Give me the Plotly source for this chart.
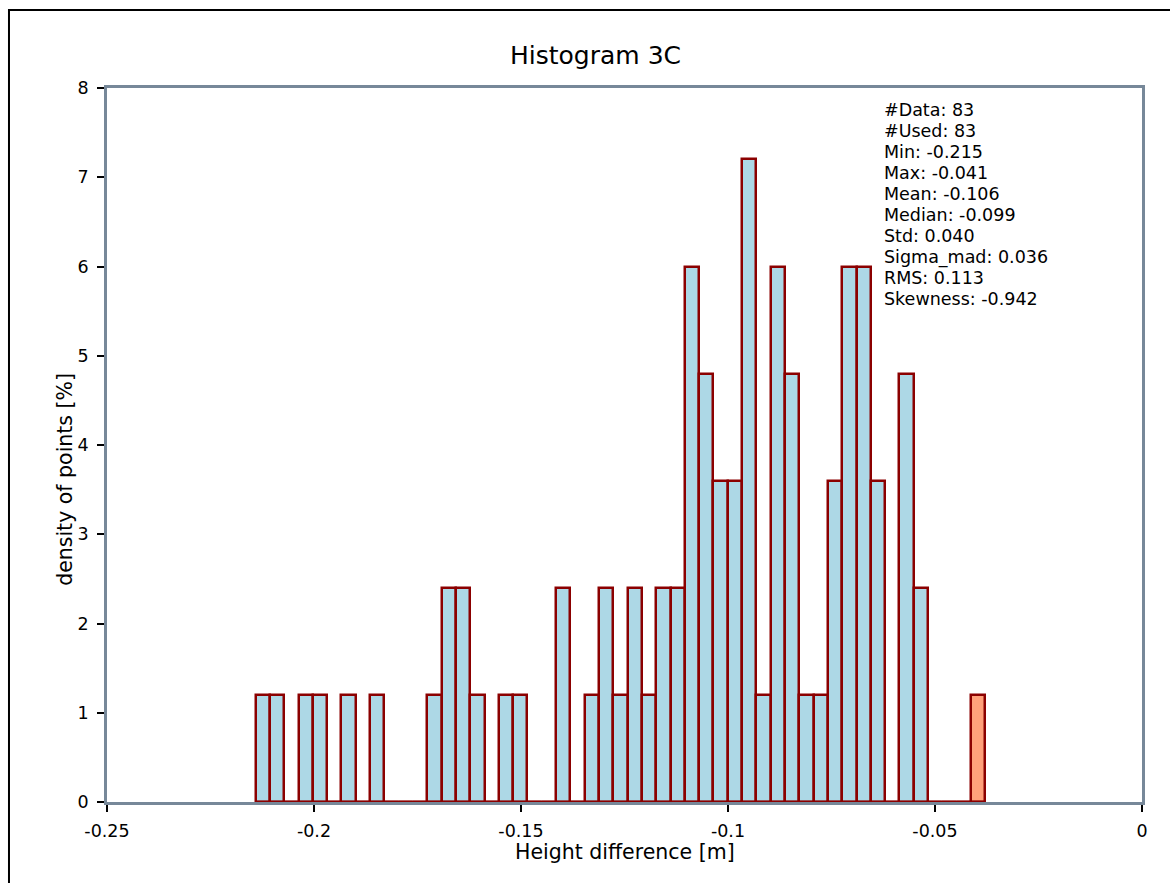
import plotly.graph_objects as go

# histogram of height differences, 51 bins (last one = max value, highlighted)
bin_start = -0.2141
bin_width = 0.003456
density = [1.2, 1.2, 0, 1.2, 1.2, 0, 1.2, 0, 1.2, 0,
           0, 0, 1.2, 2.4, 2.4, 1.2, 0, 1.2, 1.2, 0,
           0, 2.4, 0, 1.2, 2.4, 1.2, 2.4, 1.2, 2.4, 2.4,
           6.0, 4.8, 3.6, 3.6, 7.2, 1.2, 6.0, 4.8, 1.2, 1.2,
           3.6, 6.0, 6.0, 3.6, 0, 4.8, 2.4, 0, 0, 0,
           1.2]
highlight = [False] * 50 + [True]

x_tickvals = [-0.25, -0.2, -0.15, -0.1, -0.05, 0]
x_ticktext = ["-0.25", "-0.2", "-0.15", "-0.1", "-0.05", "0"]
y_tickvals = [0, 1, 2, 3, 4, 5, 6, 7, 8]

stats = [("#Data", "83"), ("#Used", "83"), ("Min", "-0.215"), ("Max", "-0.041"),
         ("Mean", "-0.106"), ("Median", "-0.099"), ("Std", "0.040"),
         ("Sigma_mad", "0.036"), ("RMS", "0.113"), ("Skewness", "-0.942")]

FONT = "DejaVu Sans"
EDGE = "#8b0000"
AXIS = "#778899"
PLOT_H = 714  # plot area height in px

fills = ["#ffa07a" if h else "#add8e6" for h in highlight]
bin_end = bin_start + bin_width * len(density)

fig = go.Figure()
# red baseline under the bins
fig.add_trace(go.Scatter(x=[bin_start, bin_end], y=[0, 0], mode="lines",
                         line=dict(color=EDGE, width=2.5), hoverinfo="skip",
                         showlegend=False))
fig.add_trace(go.Bar(y=density, x0=bin_start + bin_width / 2, dx=bin_width,
                     width=bin_width, marker=dict(color=fills, line=dict(color=EDGE, width=2.5)),
                     showlegend=False))

ax = dict(showline=True, linecolor=AXIS, linewidth=2.5, mirror=True,
          showgrid=False, zeroline=False, ticks="outside", tickcolor="black",
          tickwidth=2, ticklen=7, tickfont=dict(family=FONT, size=17.5, color="black"))

fig.update_xaxes(range=[-0.25, 0], tickvals=x_tickvals, ticktext=x_ticktext,
                 ticklabelstandoff=4, **ax)
fig.update_yaxes(range=[0, 8], tickvals=y_tickvals, ticklabelstandoff=5, **ax)

annotations = [
    dict(text="Histogram 3C", x=0.4715, y=1.046, xref="paper", yref="paper",
         xanchor="center", yanchor="middle", showarrow=False,
         font=dict(family=FONT, size=25, color="black")),
    dict(text="Height difference [m]", x=0.5, y=-0.07, xref="paper", yref="paper",
         xanchor="center", yanchor="middle", showarrow=False,
         font=dict(family=FONT, size=20.5, color="black")),
    dict(text="density of points [%]", x=-0.04, y=0.452, xref="paper", yref="paper",
         textangle=-90, showarrow=False, xanchor="center", yanchor="middle",
         font=dict(family=FONT, size=20.5, color="black")),
]
# stats box, one line each, 21 px apart
for i, (k, v) in enumerate(stats):
    annotations.append(dict(text=f"{k}: {v}", x=0.7488, y=(802 - 110 - 21 * i) / PLOT_H,
                            xref="paper", yref="paper", xanchor="left", yanchor="middle",
                            showarrow=False, font=dict(family=FONT, size=17.5, color="black")))

fig.update_layout(
    width=1170, height=883,
    margin=dict(l=107, r=28, t=88, b=81),
    plot_bgcolor="white", paper_bgcolor="white",
    bargap=0,
    annotations=annotations,
    shapes=[dict(type="rect", xref="paper", yref="paper",
                 x0=-0.0947, x1=1.1, y0=-0.2, y1=1.1092,
                 line=dict(color="black", width=2))],
)

fig.write_html("out.html", config={"displayModeBar": False},
               post_script="document.body.style.margin='0px';")
